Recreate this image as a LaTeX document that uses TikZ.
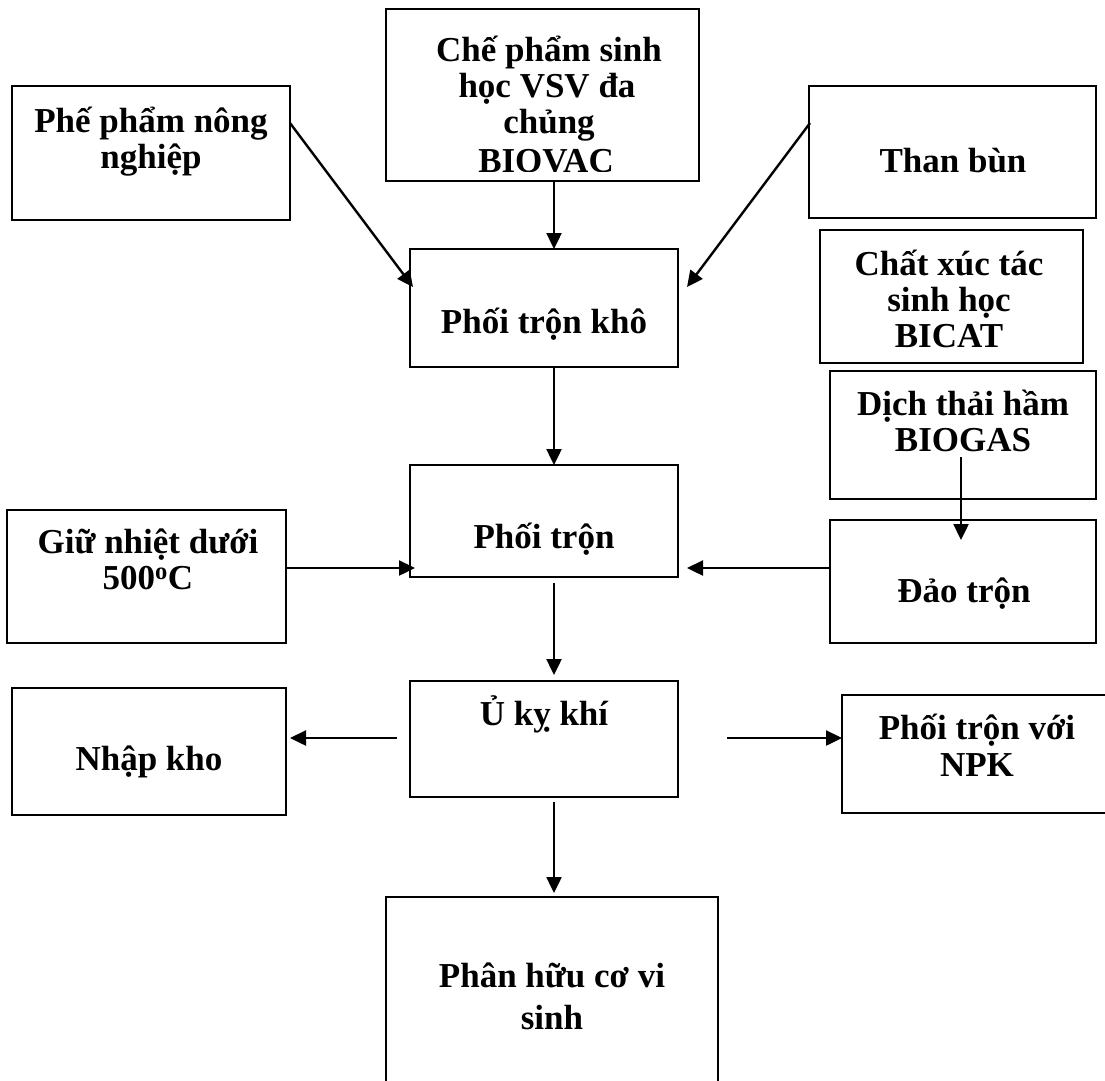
\documentclass[tikz,border=0pt]{standalone}
\usepackage{fontspec}
\setmainfont{Liberation Serif}
\usetikzlibrary{arrows.meta,calc}
\tikzset{
  box/.style={draw, line width=2.4pt, rectangle, inner sep=0pt, outer sep=0pt},
  txt/.style={font=\fontsize{35}{37}\selectfont\bfseries, anchor=base, inner sep=0pt},
  arr/.style={line width=2.4pt, -{Triangle[length=16pt,width=15pt]}}
}
\newcommand{\mybox}[5]{\node[box, minimum width={#4-#2}, minimum height={#5-#3}] (#1) at ({(#2+#4)/2},{(#3+#5)/2}) {};}
\begin{document}
\begin{tikzpicture}[x=1pt,y=-1pt]
\useasboundingbox (0,0) rectangle (1105,1080);
% boxes
\mybox{b1}{12}{86}{290}{220}
\mybox{b2}{386}{9}{699}{181}
\mybox{b3}{809}{86}{1096}{218}
\mybox{b4}{410}{249}{678}{367}
\mybox{b5}{820}{230}{1083}{363}
\mybox{b6}{830}{371}{1096}{499}
\mybox{b7}{410}{465}{678}{577}
\mybox{b8}{7}{510}{286}{643}
\mybox{b9}{830}{520}{1096}{643}
\mybox{b10}{410}{681}{678}{797}
\mybox{b11}{12}{688}{286}{815}
\mybox{b12}{842}{695}{1112}{813}
\mybox{b13}{386}{897}{718}{1095}
% texts
\node[txt] (t1a) at (151,132) {Phế phẩm nông};
\node[txt] (t1b) at (151,168) {nghiệp};
\begin{scope}
\clip (386,9) rectangle (699,171);
\node[txt] (t2a) at (549,61) {Chế phẩm sinh};
\node[txt] (t2b) at (547,97) {học VSV đa};
\node[txt] (t2c) at (549,133) {chủng};
\node[txt] (t2d) at (546,172) {BIOVAC};
\end{scope}
\node[txt] (t3) at (953,172) {Than bùn};
\node[txt] (t4) at (544,333) {Phối trộn khô};
\node[txt] (t5a) at (949,275) {Chất xúc tác};
\node[txt] (t5b) at (949,311) {sinh học};
\node[txt] (t5c) at (949,347) {BICAT};
\node[txt] (t6a) at (963,415) {Dịch thải hầm};
\node[txt] (t6b) at (963,451) {BIOGAS};
\node[txt] (t7) at (544,548) {Phối trộn};
\node[txt] (t8a) at (148,553) {Giữ nhiệt dưới};
\node[txt] (t8b) at (148,589) {500\textsuperscript{o}C};
\node[txt] (t9) at (964,602) {Đảo trộn};
\node[txt] (t10) at (544,725) {Ủ kỵ khí};
\node[txt] (t11) at (149,770) {Nhập kho};
\node[txt] (t12a) at (977,739) {Phối trộn với};
\node[txt] (t12b) at (977,776) {NPK};
\node[txt] (t13a) at (552,987) {Phân hữu cơ vi};
\node[txt] (t13b) at (552,1029) {sinh};
% connectors
\coordinate (cx) at (554,0);
\draw[arr] ($(b1.north east)+(0,37)$) -- ($(b4.north west)+(3,38)$);
\draw[arr] (b2.south -| cx) -- (b4.north -| cx);
\draw[arr] ($(b3.north west)+(1,37)$) -- ($(b4.north east)+(9,38)$);
\draw[arr] (b4.south -| cx) -- (b7.north -| cx);
\draw[arr] ($(b6.south)+(-2,-42)$) -- ($(b9.north)+(-2,20)$);
\draw[arr] ($(b9.north west)+(0,48)$) -- ($(b7.north east)+(9,103)$);
\draw[arr] ($(b8.north east)+(0,58)$) -- ($(b7.north west)+(5,103)$);
\draw[arr] ($(b7.south -| cx)+(0,6)$) -- ($(b10.north -| cx)+(0,-6)$);
\draw[arr] ($(b10.north west)+(-13,57)$) -- ($(b11.north east)+(4,50)$);
\draw[arr] ($(b10.north east)+(49,57)$) -- ($(b12.north west)+(0,43)$);
\draw[arr] ($(b10.south -| cx)+(0,5)$) -- ($(b13.north -| cx)+(0,-4)$);
\end{tikzpicture}
\end{document}
